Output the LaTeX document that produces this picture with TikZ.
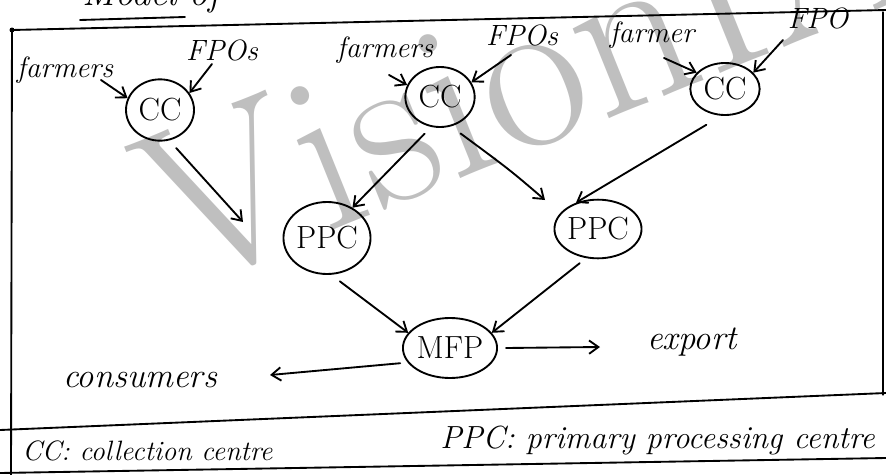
\documentclass[tikz,border=0pt]{standalone}
\usepackage{fontspec}
\usetikzlibrary{shapes.geometric,arrows.meta}
\begin{document}
\begin{tikzpicture}[x=0.75pt,y=-0.75pt,
  hand/.style={line width=1.4pt, line cap=round, line join=round},
  arr/.style={hand, -{Straight Barb[length=7pt,width=10pt,line width=1.4pt]}},
  circ/.style={ellipse, draw, hand, inner sep=0pt, font=\fontsize{24}{28}\selectfont},
  lbl/.style={inner sep=0pt, font=\fontsize{22}{26}\selectfont\itshape},
  big/.style={inner sep=0pt, font=\fontsize{26}{30}\selectfont\itshape},
  leg/.style={inner sep=0pt, anchor=base west, font=\fontsize{21}{26}\selectfont\itshape},
  wmark/.style={inner sep=0pt, rotate=22, anchor=base west, text=black!25, font=\fontsize{170}{170}\selectfont}]
\useasboundingbox (0,0) rectangle (886,475);
\clip (0,0) rectangle (886,475);
% watermark
\node[wmark] (wm) at (180,292) {VisionIAS};
% cut-off title
\node[inner sep=0pt, anchor=base west, font=\fontsize{28}{30}\selectfont\itshape] (title) at (82,5) {Model of};
\draw[hand] (80,20) -- (185,17);
% frame
\coordinate (tl) at (12,30);
\coordinate (tr) at (886,10);
\coordinate (rt) at (883,12);
\coordinate (rb) at (883,395);
\coordinate (lb) at (11,475);
\coordinate (sl) at (0,430);
\coordinate (sr) at (886,393);
\coordinate (bl) at (0,473);
\coordinate (br) at (886,458);
\draw[hand] (tl) -- (tr);
\fill (tl) circle (2.5);
\draw[hand] (tl) -- (lb);
\draw[hand, line width=0.8pt] (rt) -- (rb);
\draw[hand] (sl) -- (sr);
\draw[hand] (bl) -- (br);
% nodes
\node[circ, minimum width=51pt, minimum height=46pt] (cc1) at (160,110) {CC};
\node[circ, minimum width=52pt, minimum height=45pt] (cc2) at (440,97) {CC};
\node[circ, minimum width=52pt, minimum height=39pt] (cc3) at (725,89) {CC};
\node[circ, minimum width=64pt, minimum height=54pt] (ppc1) at (327,238) {PPC};
\node[circ, minimum width=64pt, minimum height=44pt] (ppc2) at (598,229) {PPC};
\node[circ, minimum width=64pt, minimum height=45pt] (mfp) at (450,348) {MFP};
% labels
\node[lbl] (f1) at (65,70) {farmers};
\node[lbl] (p1) at (222,50) {FPOs};
\node[lbl] (f2) at (385,50) {farmers};
\node[lbl] (p2) at (522,35) {FPOs};
\node[lbl] (f3) at (652,35) {farmer};
\node[lbl] (p3) at (818,18) {FPO};
\node[big] (exp) at (692,342) {export};
\node[big] (con) at (140,380) {consumers};
\node[leg] (l1) at (22,460) {CC: collection centre};
\node[leg, font=\fontsize{24}{28}\selectfont\itshape] (l2) at (440,448) {PPC: primary processing centre};
% input arrows
\coordinate (a1) at (101,80);
\coordinate (b1) at (212,64);
\coordinate (a2) at (389,75);
\coordinate (b2) at (511,55);
\coordinate (a3) at (664,58);
\coordinate (b3) at (783,40);
\draw[arr] (a1) -- (cc1.160);
\draw[arr] (b1) -- (cc1.30);
\draw[arr] (a2) -- (cc2.160);
\draw[arr] (b2) -- (cc2.25);
\draw[arr] (a3) -- (cc3.150);
\draw[arr] (b3) -- (cc3.30);
% flows
\coordinate (e1) at (243,222);
\draw[arr] (cc1.-60) ++(0,10) -- (e1);
\draw[arr] (cc2.-115) ++(-2,8) -- (ppc1.50);
\draw[arr] (cc2.-55) ++(2,10) .. controls (510,170) .. (545,200);
\draw[arr] (cc3.-125) ++(-2,12) -- (ppc2.130);
\draw[arr] (ppc1.-70) ++(0,8) -- (mfp.160);
\draw[arr] (ppc2.-120) ++(-2,6) -- (mfp.20);
\draw[arr] (mfp.east) ++(8,0) -- (600,347);
\draw[arr] (mfp.-160) ++(-8,0) -- (270,375);
\end{tikzpicture}
\end{document}
